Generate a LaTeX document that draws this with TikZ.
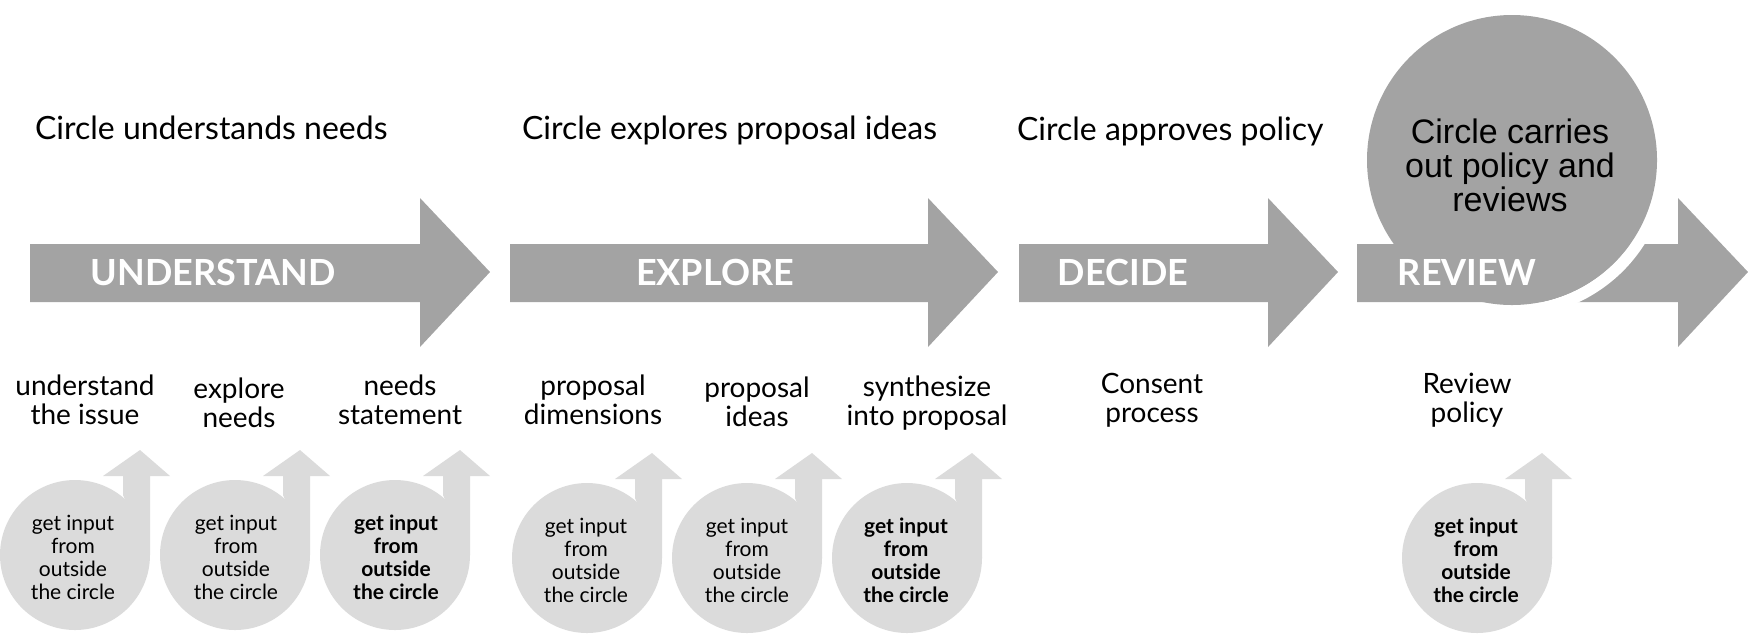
\documentclass[tikz,border=0pt]{standalone}
\usepackage{fontspec}
\setmainfont{Lato}
\newfontfamily\arial{Liberation Sans}
\begin{document}
\begin{tikzpicture}[x=0.5pt,y=-0.5pt,
  big/.style={fill=black!36,draw=none},
  small/.style={fill=black!14,draw=none},
  head/.style={font=\fontsize{16}{19}\selectfont,anchor=west},
  lab/.style={font=\fontsize{14}{14.5}\selectfont,align=center},
  ctx/.style={font=\fontsize{10.5}{11.5}\selectfont,align=center},
  ctb/.style={font=\fontsize{10.5}{11.5}\selectfont\bfseries,align=center},
  atx/.style={font=\fontsize{18}{20}\selectfont\bfseries,text=white}]
\useasboundingbox (0,0) rectangle (1748,634);
\newcommand\bigarrow[2]{\fill[big] (#1,244) -- (#2-70,244) -- (#2-70,198) -- (#2,272) -- (#2-70,347) -- (#2-70,302) -- (#1,302) -- cycle;}
\bigarrow{30}{490}
\bigarrow{510}{998}
\bigarrow{1019}{1338}
\bigarrow{1357}{1748}
\begin{scope}
\clip (1495,0) rectangle (1748,634);
\draw[white,line width=6pt] (1512,160) circle (151);
\end{scope}
\fill[big] (1512,160) circle (145);
\node[atx] (a1) at (213,272) {UNDERSTAND};
\node[atx] (a2) at (715,272) {EXPLORE};
\node[atx] (a3) at (1123,272) {DECIDE};
\node[atx] (a4) at (1467,272) {REVIEW};
\node[font=\arial\fontsize{17}{17}\selectfont,align=center] (c) at (1510,165) {Circle carries\\out policy and\\reviews};
\node[head] (h1) at (28,128) {Circle understands needs};
\node[head] (h2) at (515,130) {Circle explores proposal ideas};
\node[head] (h3) at (1010,131) {Circle approves policy};
\newcommand\inarrow[2]{\fill[small] (#1,#2) circle (75);
  \fill[small] (#1+75,#2) -- (#1+75,#2-79) -- (#1+95,#2-79) -- (#1+65,#2-105) -- (#1+28,#2-79) -- (#1+48,#2-79) -- (#1+48,#2-60) -- cycle;}
\inarrow{75}{555}\inarrow{235}{555}\inarrow{395}{555}
\inarrow{587}{558}\inarrow{747}{558}\inarrow{907}{558}\inarrow{1477}{558}
\node[ctx] (s1) at (73,557) {get input\\from\\outside\\the circle};
\node[ctx] (s2) at (236,557) {get input\\from\\outside\\the circle};
\node[ctb] (s3) at (396,557) {get input\\from\\outside\\the circle};
\node[ctx] (s4) at (586,560) {get input\\from\\outside\\the circle};
\node[ctx] (s5) at (747,560) {get input\\from\\outside\\the circle};
\node[ctb] (s6) at (906,560) {get input\\from\\outside\\the circle};
\node[ctb] (s7) at (1476,560) {get input\\from\\outside\\the circle};
\node[lab] (l1) at (85,400) {understand\\the issue};
\node[lab] (l2) at (239,403) {explore\\needs};
\node[lab] (l3) at (400,400) {needs\\statement};
\node[lab] (l4) at (593,400) {proposal\\dimensions};
\node[lab] (l5) at (757,402) {proposal\\ideas};
\node[lab] (l6) at (927,403) {synthesize\\into proposal};
\node[lab] (l7) at (1152,400) {Consent\\process};
\node[lab] (l8) at (1467,400) {Review\\policy};
\end{tikzpicture}
\end{document}
